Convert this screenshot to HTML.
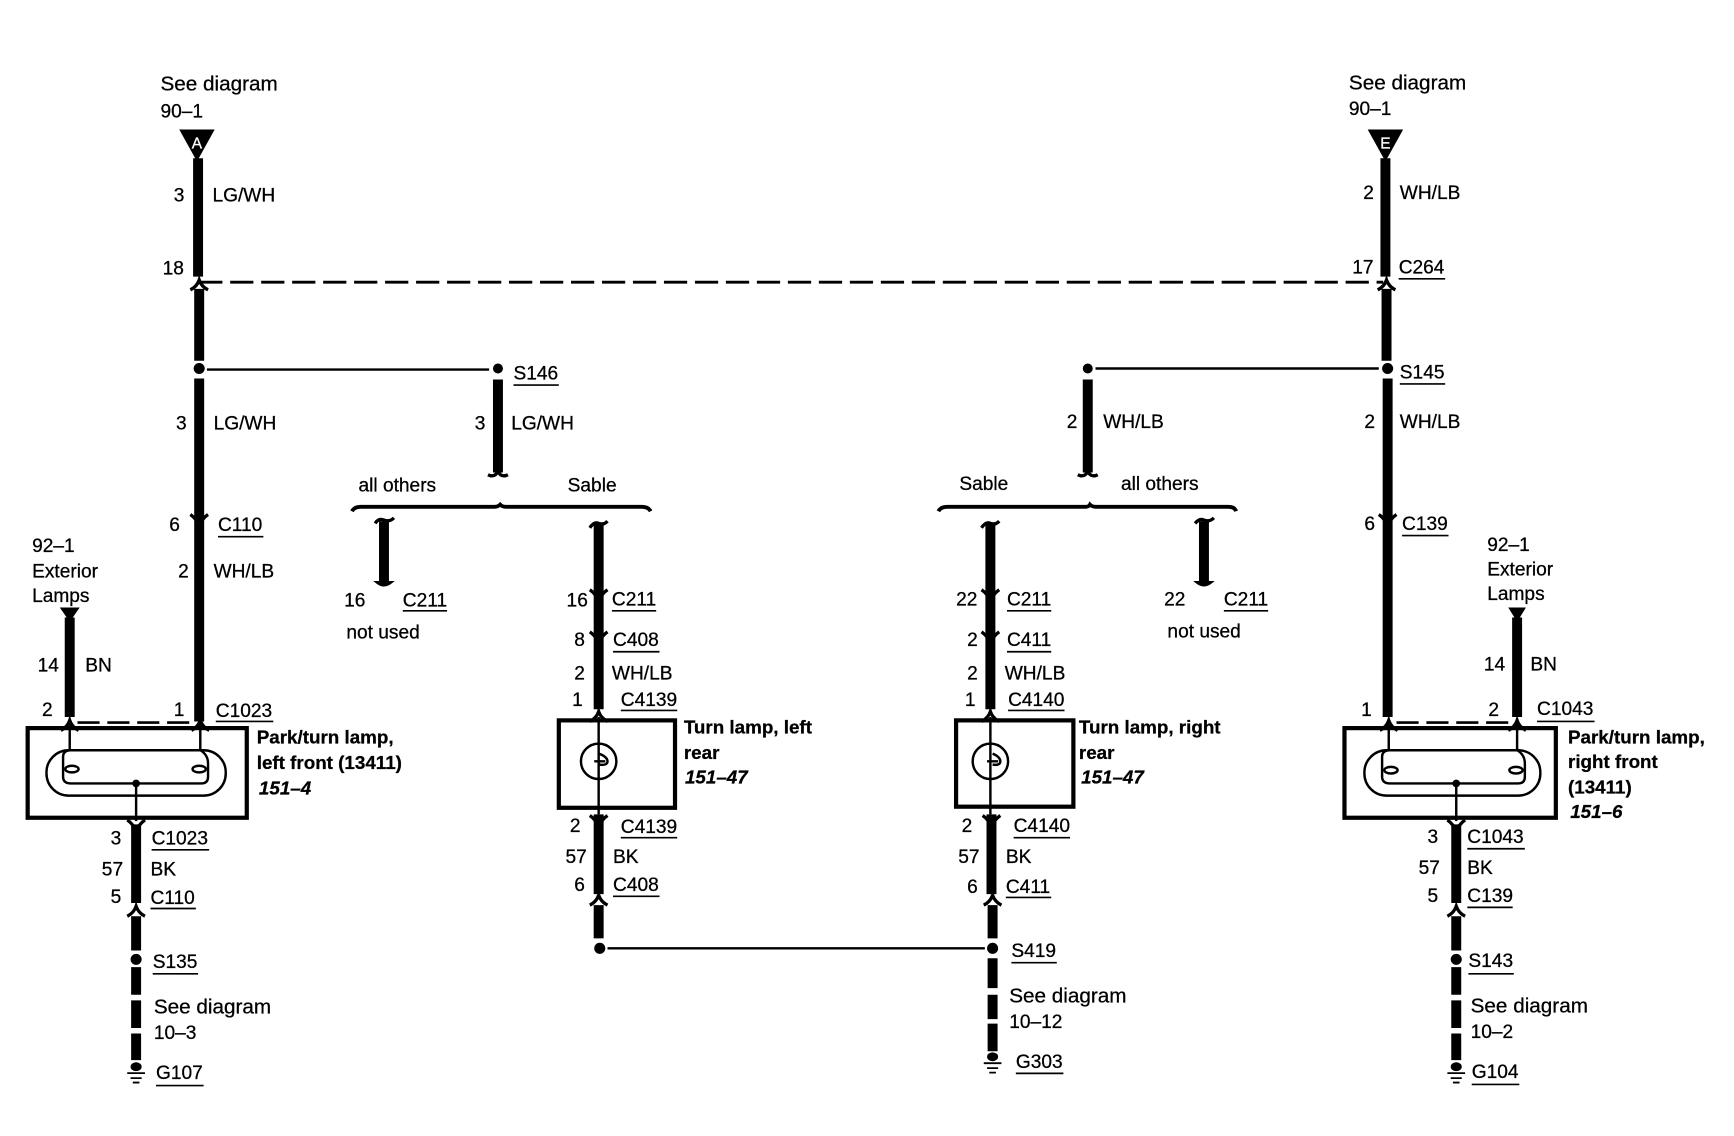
<!DOCTYPE html>
<html><head><meta charset="utf-8"><style>
html,body{margin:0;padding:0;background:#fff}
svg{display:block}
text{font-family:"Liberation Sans",sans-serif;font-size:17.3px;fill:#000;stroke:#000;stroke-width:.25}
.s{font-size:18.7px}
.b{font-weight:bold;font-size:17px}
.i{font-weight:bold;font-style:italic;font-size:17px}
.w{fill:none;stroke:#000;stroke-width:9}
.t{fill:none;stroke:#000;stroke-width:2.2}
.box{fill:none;stroke:#000;stroke-width:3.8}
.u{stroke:#000;stroke-width:1.5}
.f{fill:none;stroke:#000;stroke-width:3}
</style></head><body>
<svg width="1734" height="1136" viewBox="0 0 1567 1026.6" xmlns="http://www.w3.org/2000/svg">
<defs>
<path id="d" class="f" d="M-8,-9 Q-2,-5 0,2 Q2,-5 8,-9"/>
<path id="p" class="f" d="M-8,6 Q-2,3 0,-3 Q2,3 8,6"/>
<path id="c" class="f" d="M-9,-3 Q-3,0 0,-6 Q3,0 9,-3"/>
<g id="gr"><ellipse cx="0" cy="3" rx="5" ry="4"/><path d="M-8,8 h16 v1.6 h-16z M-5,12.5 h10 v1.6 h-10z M-3,16.5 h6 v1.6 h-6z"/></g>
</defs>

<!-- thick wires left -->
<path class="w" d="M179,143V250M180,261V326M180,342V652"/>
<path d="M162,117H194L178,146Z"/>
<text x="178" y="134" text-anchor="middle" style="font-size:14px;fill:#fff;stroke:#fff">A</text>
<use href="#p" x="180" y="256"/><use href="#d" x="180" y="474"/>
<circle cx="180" cy="333" r="5"/>
<path class="t" d="M187,334H442"/>
<path d="M180,255H1250" fill="none" stroke="#000" stroke-width="2.6" stroke-dasharray="21 7"/>

<!-- S146 branch -->
<circle cx="450" cy="333" r="4.5"/>
<path class="w" d="M450,343V427"/>
<use href="#c" x="450" y="432"/>
<path class="t" style="stroke-width:3.4" d="M318,462Q320,458 326,458H447Q450,458 452,456Q454,458 457,458H580Q586,458 588,462"/>
<path class="w" d="M347,471V525"/>
<path class="f" d="M339,473Q342,468 347,470Q352,472 356,468"/>
<path d="M340,526Q347,532 354,526Z" stroke="#000" stroke-width="2"/>

<!-- left center -->
<path class="w" d="M541,472V641"/>
<path class="f" d="M533,477Q537,471 541,473Q545,475 549,471"/>
<use href="#d" x="541" y="542"/><use href="#d" x="541" y="580"/><use href="#p" x="541" y="646"/>
<rect class="box" x="505" y="651" width="105" height="79"/>
<path class="t" d="M541,648V736"/>
<circle class="t" cx="541" cy="688" r="16"/>
<path class="t" d="M541,681Q549,684 549,688T541,691M537,688H547"/>
<path class="w" d="M541,736V808M541,818V848"/>
<use href="#d" x="541" y="746"/><use href="#p" x="541" y="812"/>
<circle cx="542" cy="857" r="5"/>
<path class="t" d="M549,857H890"/>

<!-- right center -->
<path class="w" d="M895,472V641"/>
<path class="f" d="M887,477Q891,471 895,473Q899,475 903,471"/>
<use href="#d" x="895" y="542"/><use href="#d" x="895" y="580"/><use href="#p" x="895" y="646"/>
<rect class="box" x="864" y="651" width="106" height="78"/>
<path class="t" d="M895,648V736"/>
<circle class="t" cx="895" cy="688" r="16"/>
<path class="t" d="M897,681Q904,684 904,688T897,691M892,688H902"/>
<path class="w" d="M896,736V808M897,818V848M897,866V893M897,899V921M897,925V950"/>
<use href="#d" x="896" y="746"/><use href="#p" x="897" y="812"/>
<circle cx="897" cy="857" r="5"/>
<use href="#gr" x="897" y="952"/>

<!-- S-right branch -->
<circle cx="983" cy="333" r="4.5"/>
<path class="t" d="M990,333H1246"/>
<path class="w" d="M983,343V427"/>
<use href="#c" x="983" y="432"/>
<path class="t" style="stroke-width:3.4" d="M848,462Q850,458 856,458H981Q984,458 985,456Q987,458 990,458H1110Q1116,458 1117,462"/>
<path class="w" d="M1088,471V525"/>
<path class="f" d="M1080,473Q1084,468 1088,470Q1093,472 1097,468"/>
<path d="M1081,526Q1088,532 1095,526Z" stroke="#000" stroke-width="2"/>

<!-- left lamp -->
<rect class="box" x="25" y="658" width="198" height="81"/>
<path class="w" style="stroke-width:9" d="M63,558V648"/>
<path d="M54,549H72L63,562Z"/>
<use href="#p" x="63" y="654"/><use href="#p" x="181" y="654"/>
<path d="M70,653H175" fill="none" stroke="#000" stroke-width="2.4" stroke-dasharray="20 7"/>
<path class="t" d="M63,654V678M181,654V678"/>
<rect class="t" x="42" y="678" width="162" height="41" rx="20"/>
<path class="t" d="M64,678H181Q188,682 188,690V702Q188,708 182,708H64Q57,708 57,702V684Q57,678 64,678"/>
<ellipse class="t" cx="65" cy="695" rx="6" ry="3"/><ellipse class="t" cx="180" cy="695" rx="6" ry="3"/>
<circle cx="123" cy="708" r="3.5"/>
<path class="t" d="M123,708V742"/>
<path class="w" d="M123,745V816M123,828V859M123,874V899M123,904V929M123,934V958"/>
<use href="#d" x="123" y="750"/><use href="#p" x="123" y="822"/>
<circle cx="123" cy="867" r="5"/>
<use href="#gr" x="123" y="961"/>

<!-- right main -->
<path class="w" d="M1252,143V250M1253,261V326M1254,342V648"/>
<path d="M1236,117H1268L1252,146Z"/>
<text x="1252" y="134" text-anchor="middle" style="font-size:14px;fill:#fff;stroke:#fff">E</text>
<use href="#p" x="1253" y="256"/><use href="#d" x="1254" y="474"/>
<circle cx="1254" cy="333" r="5"/>

<!-- right lamp -->
<rect class="box" x="1215" y="658" width="191" height="81"/>
<path class="w" style="stroke-width:9" d="M1371,558V648"/>
<path d="M1363,549H1379L1371,562Z"/>
<use href="#p" x="1255" y="654"/><use href="#p" x="1371" y="654"/>
<path d="M1262,653H1365" fill="none" stroke="#000" stroke-width="2.4" stroke-dasharray="20 7"/>
<path class="t" d="M1255,654V678M1371,654V678"/>
<rect class="t" x="1233" y="678" width="159" height="41" rx="20"/>
<path class="t" d="M1256,678H1371Q1378,682 1378,690V702Q1378,708 1372,708H1256Q1249,708 1249,702V684Q1249,678 1256,678"/>
<ellipse class="t" cx="1257" cy="696" rx="6" ry="3"/><ellipse class="t" cx="1370" cy="696" rx="6" ry="3"/>
<circle cx="1316" cy="708" r="3.5"/>
<path class="t" d="M1316,708V742"/>
<path class="w" d="M1316,745V816M1316,828V859M1316,874V899M1316,904V929M1316,934V958"/>
<use href="#d" x="1316" y="750"/><use href="#p" x="1316" y="822"/>
<circle cx="1316" cy="867" r="5"/>
<use href="#gr" x="1316" y="961"/>

<!-- underlines -->
<path class="u" d="M464,348H505M197,485H238M195,652H247M137,768H189M136,821H177M138,880H179M141,981H184M364,552H404M553,552H593M554,589H596M561,642H612M561,757H612M554,810H596M914,870H955M918,970H961M910,552H950M910,589H950M911,642H962M916,757H967M909,811H950M1106,552H1146M1264,252H1306M1265,347H1306M1267,484H1309M1389,652H1441M1326,767H1378M1326,820H1367M1327,880H1368M1330,980H1373"/>

<!-- left labels -->
<text class="s" x="145" y="82">See diagram</text><text x="145" y="106">90–1</text>
<text x="157" y="182">3</text><text x="192" y="182">LG/WH</text>
<text x="147" y="248">18</text>
<text x="159" y="388">3</text><text x="193" y="388">LG/WH</text>
<text x="464" y="343">S146</text>
<text x="429" y="388">3</text><text x="462" y="388">LG/WH</text>
<text x="324" y="444">all others</text><text x="513" y="444">Sable</text>
<text x="153" y="480">6</text><text x="197" y="480">C110</text>
<text x="29" y="499">92–1</text><text x="29" y="522">Exterior</text><text x="29" y="544">Lamps</text>
<text x="161" y="522">2</text><text x="193" y="522">WH/LB</text>
<text x="34" y="607">14</text><text x="77" y="607">BN</text>
<text x="38" y="647">2</text><text x="157" y="647">1</text><text x="195" y="648">C1023</text>
<text class="b" x="232" y="672">Park/turn lamp,</text><text class="b" x="232" y="695">left front (13411)</text><text class="i" x="234" y="718">151–4</text>
<text x="100" y="763">3</text><text x="137" y="763">C1023</text>
<text x="92" y="791">57</text><text x="136" y="791">BK</text>
<text x="100" y="816">5</text><text x="136" y="817">C110</text>
<text x="138" y="875">S135</text><text class="s" x="139" y="916">See diagram</text><text x="139" y="939">10–3</text><text x="141" y="975">G107</text>
<text x="311" y="548">16</text><text x="364" y="548">C211</text><text x="313" y="577">not used</text>

<!-- center left labels -->
<text x="512" y="548">16</text><text x="553" y="547">C211</text>
<text x="519" y="584">8</text><text x="554" y="584">C408</text>
<text x="519" y="614">2</text><text x="553" y="614">WH/LB</text>
<text x="517" y="638">1</text><text x="561" y="638">C4139</text>
<text class="b" x="618" y="663">Turn lamp, left</text><text class="b" x="618" y="686">rear</text><text class="i" x="619" y="708">151–47</text>
<text x="515" y="752">2</text><text x="561" y="753">C4139</text>
<text x="511" y="780">57</text><text x="554" y="780">BK</text>
<text x="519" y="805">6</text><text x="554" y="805">C408</text>

<!-- center right labels -->
<text x="914" y="865">S419</text><text class="s" x="912" y="906">See diagram</text><text x="912" y="929">10–12</text><text x="918" y="965">G303</text>
<text x="864" y="547">22</text><text x="910" y="547">C211</text>
<text x="874" y="584">2</text><text x="910" y="584">C411</text>
<text x="874" y="614">2</text><text x="908" y="614">WH/LB</text>
<text x="872" y="638">1</text><text x="911" y="638">C4140</text>
<text class="b" x="975" y="663">Turn lamp, right</text><text class="b" x="975" y="686">rear</text><text class="i" x="977" y="708">151–47</text>
<text x="869" y="752">2</text><text x="916" y="752">C4140</text>
<text x="866" y="780">57</text><text x="909" y="780">BK</text>
<text x="874" y="807">6</text><text x="909" y="807">C411</text>
<text x="964" y="387">2</text><text x="997" y="387">WH/LB</text>
<text x="867" y="443">Sable</text><text x="1013" y="443">all others</text>
<text x="1052" y="547">22</text><text x="1106" y="547">C211</text><text x="1055" y="576">not used</text>

<!-- right labels -->
<text class="s" x="1219" y="81">See diagram</text><text x="1219" y="104">90–1</text>
<text x="1232" y="180">2</text><text x="1265" y="180">WH/LB</text>
<text x="1222" y="247">17</text><text x="1264" y="247">C264</text>
<text x="1265" y="342">S145</text>
<text x="1233" y="387">2</text><text x="1265" y="387">WH/LB</text>
<text x="1233" y="479">6</text><text x="1267" y="479">C139</text>
<text x="1344" y="498">92–1</text><text x="1344" y="520">Exterior</text><text x="1344" y="542">Lamps</text>
<text x="1341" y="606">14</text><text x="1383" y="606">BN</text>
<text x="1230" y="647">1</text><text x="1345" y="647">2</text><text x="1389" y="646">C1043</text>
<text class="b" x="1417" y="672">Park/turn lamp,</text><text class="b" x="1417" y="694">right front</text><text class="b" x="1417" y="717">(13411)</text><text class="i" x="1419" y="739">151–6</text>
<text x="1290" y="762">3</text><text x="1326" y="762">C1043</text>
<text x="1282" y="790">57</text><text x="1326" y="790">BK</text>
<text x="1290" y="815">5</text><text x="1326" y="815">C139</text>
<text x="1327" y="874">S143</text><text class="s" x="1329" y="915">See diagram</text><text x="1329" y="938">10–2</text><text x="1330" y="974">G104</text>
</svg>
</body></html>
